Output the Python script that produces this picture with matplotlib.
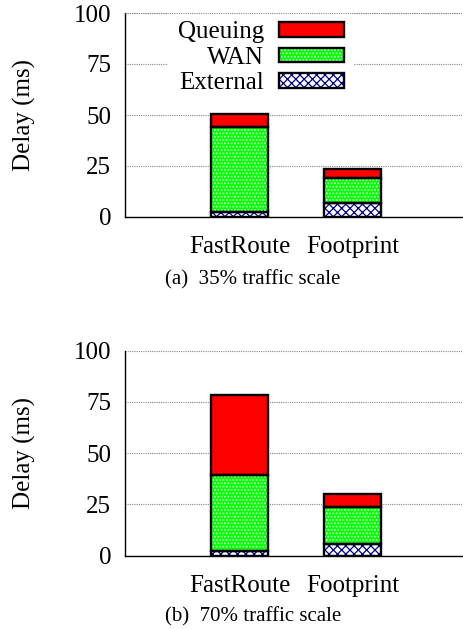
import matplotlib
matplotlib.use("Agg")
import matplotlib.pyplot as plt
from matplotlib.legend_handler import HandlerTuple

plt.rcParams['font.family'] = ['Liberation Serif', 'DejaVu Serif']
plt.rcParams['hatch.linewidth'] = 0.9

categories = ["FastRoute", "Footprint"]
series_names = ["Queuing", "WAN", "External"]
# panel (a) 35% traffic scale
ext_a = [2.3, 7.0]
wan_a = [42.0, 12.1]
que_a = [6.0, 4.2]
# panel (b) 70% traffic scale
ext_b = [2.4, 5.9]
wan_b = [36.9, 17.8]
que_b = [38.9, 6.2]
yticks = [0, 25, 50, 75, 100]
captions = ["(a)  35% traffic scale", "(b)  70% traffic scale"]

fig = plt.figure(figsize=(4.64, 6.29), dpi=100)
ax_a = fig.add_axes([125/464, 1-217/629, 339/464, 204/629])
ax_b = fig.add_axes([125/464, 1-555.7/629, 339/464, 205/629])

styles = {
    "External": dict(face="white", hatchc="#00008b", hatch="xxxx"),
    "WAN": dict(face="#00ff00", hatchc="#c8ffc8", hatch="....."),
    "Queuing": dict(face="#ff0000", hatchc="#ff0000", hatch=None),
}

grid_style = dict(linestyle=(0, (1, 1)), color="#888888", linewidth=0.8)

def draw(ax, ext, wan, que, caption_y, caption, legend=False):
    x = [1, 2]
    w = 0.5
    handles = {}
    bottom = [0, 0]
    for name, vals in [("External", ext), ("WAN", wan), ("Queuing", que)]:
        st = styles[name]
        b1 = ax.bar(x, vals, w, bottom=bottom, color=st["face"],
                    edgecolor=st["hatchc"], hatch=st["hatch"], linewidth=0, zorder=3)
        b2 = ax.bar(x, vals, w, bottom=bottom, fill=False,
                    edgecolor="black", linewidth=1.7, zorder=4)
        handles[name] = (b1.patches[0], b2.patches[0])
        bottom = [bottom[i] + vals[i] for i in range(2)]
    ax.set_xlim(-0.013, 2.987)
    ax.set_ylim(0, 100)
    ax.set_yticks(yticks)
    ax.set_xticks(x)
    ax.set_xticklabels(categories)
    ax.tick_params(axis='both', length=0, labelsize=18)
    ax.tick_params(axis='y', pad=10)
    ax.tick_params(axis='x', pad=14)
    ax.yaxis.grid(True, zorder=0, **grid_style)
    ax.set_axisbelow(True)
    for s in ["top", "right"]:
        ax.spines[s].set_visible(False)
    ax.spines["left"].set_linewidth(1.0)
    ax.spines["bottom"].set_linewidth(1.0)
    ax.set_ylabel("Delay (ms)", fontsize=18)
    ax.yaxis.set_label_coords(-0.262, 0.5)
    fig.text(253/464, caption_y, caption, fontsize=15, ha="center", va="center")
    if legend:
        leg = ax.legend([handles[n] for n in series_names], series_names,
                        handler_map={tuple: HandlerTuple(ndivide=1)},
                        loc="upper left", bbox_to_anchor=(0.127, 1.008),
                        borderaxespad=0,
                        fontsize=18, markerfirst=False, frameon=True,
                        framealpha=1, edgecolor="none", facecolor="white",
                        fancybox=False, handlelength=2.6, handleheight=0.5,
                        handletextpad=0.6, labelspacing=0.14, borderpad=0.4)
        for t in leg.get_texts():
            t.set_ha("right")
        leg.set_zorder(10)
        # keep the top gridline visible above the legend background
        ax.axhline(100, zorder=11, **grid_style)

draw(ax_a, ext_a, wan_a, que_a, 1-280/629, captions[0], legend=True)
draw(ax_b, ext_b, wan_b, que_b, 1-617/629, captions[1])

fig.savefig("out.png", dpi=100)
